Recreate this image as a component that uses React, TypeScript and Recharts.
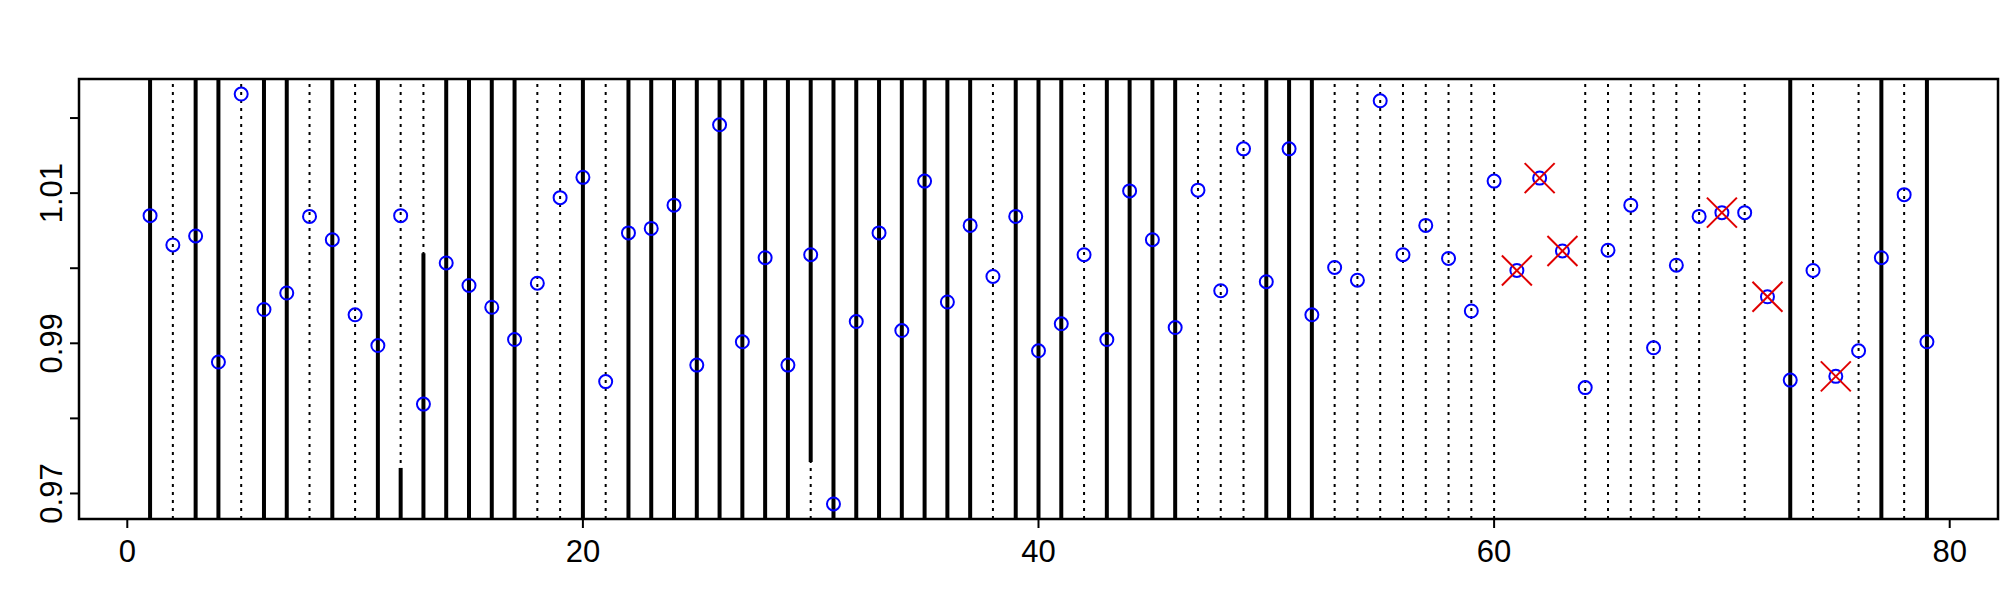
import {
  ComposedChart,
  ReferenceArea,
  ReferenceLine,
  Scatter,
  XAxis,
  YAxis,
} from "recharts";

// values at positions 1..79
const values = [
  1.007, 1.0031, 1.0043, 0.9875, 1.0232, 0.9945, 0.9967, 1.0069, 1.0038, 0.9938,
  0.9897, 1.007, 0.9819, 1.0007, 0.9977, 0.9948, 0.9905, 0.998, 1.0094, 1.0121,
  0.9849, 1.0047, 1.0053, 1.0084, 0.9871, 1.0191, 0.9902, 1.0014, 0.9871, 1.0018,
  0.9686, 0.9929, 1.0047, 0.9917, 1.0116, 0.9955, 1.0057, 0.9989, 1.0069, 0.989,
  0.9926, 1.0018, 0.9905, 1.0103, 1.0038, 0.9921, 1.0104, 0.997, 1.0159, 0.9982,
  1.0159, 0.9938, 1.0001, 0.9984, 1.0223, 1.0018, 1.0057, 1.0013, 0.9943, 1.0116,
  0.9997, 1.012, 1.0023, 0.9841, 1.0024, 1.0084, 0.9894, 1.0004, 1.0069, 1.0074,
  1.0074, 0.9962, 0.9851, 0.9997, 0.9856, 0.989, 1.0014, 1.0098, 0.9902,
];

const flagged = [61, 62, 63, 70, 72, 75];

const solidX = [
  1, 3, 4, 6, 7, 9, 11, 14, 15, 16, 17, 20, 22, 23, 24, 25, 26, 27, 28, 29, 31,
  32, 33, 34, 35, 36, 37, 39, 40, 41, 43, 44, 45, 46, 50, 51, 52, 73, 77, 79,
];

const dottedX = [
  2, 5, 8, 10, 12, 13, 18, 19, 21, 30, 38, 42, 47, 48, 49, 53, 54, 55, 56, 57,
  58, 59, 60, 64, 65, 66, 67, 68, 69, 71, 74, 76, 78,
];

// partial solid lines: [x, from, to]
const partialLines: [number, number, number][] = [
  [12, 0.9666, 0.9734],
  [13, 0.9666, 1.002],
  [30, 1.0252, 0.9742],
];

const xTicks = [0, 20, 40, 60, 80];
const yTicks = [0.97, 0.98, 0.99, 1.0, 1.01, 1.02];
const yLabels = [0.97, 0.99, 1.01];

const xDomain: [number, number] = [-2.12, 82.12];
const yDomain: [number, number] = [0.9666, 1.0252];

const points = values.map((v, i) => ({ x: i + 1, y: v }));
const flaggedPoints = points.filter((p) => flagged.includes(p.x));

const FONT = "'Liberation Sans', Arial, sans-serif";

function XTick(props: any) {
  const { x, y, payload } = props;
  return (
    <text
      x={x}
      y={y}
      dy="0.72em"
      textAnchor="middle"
      fontSize={31}
      fontFamily={FONT}
      fill="#000"
    >
      {payload.value}
    </text>
  );
}

function YTick(props: any) {
  const { x, y, payload } = props;
  const v = Number(payload.value);
  if (!yLabels.some((l) => Math.abs(l - v) < 1e-6)) return <g />;
  return (
    <text
      x={x}
      y={y}
      transform={`rotate(-90, ${x}, ${y})`}
      textAnchor="middle"
      fontSize={31}
      fontFamily={FONT}
      fill="#000"
    >
      {v.toFixed(2)}
    </text>
  );
}

function Ring(props: any) {
  const { cx, cy } = props;
  return <circle cx={cx} cy={cy} r={6.5} fill="none" stroke="#0000ff" strokeWidth={2} />;
}

function Cross(props: any) {
  const { cx, cy } = props;
  const s = 15;
  return (
    <g stroke="#e00000" strokeWidth={2}>
      <line x1={cx - s} y1={cy - s} x2={cx + s} y2={cy + s} />
      <line x1={cx - s} y1={cy + s} x2={cx + s} y2={cy - s} />
    </g>
  );
}

export default function App() {
  return (
    <div style={{ position: "absolute", left: 0, top: 0, background: "#fff" }}>
      <ComposedChart
        width={2000}
        height={600}
        margin={{ top: 79, right: 2, bottom: 0, left: 0 }}
      >
        <XAxis
          type="number"
          dataKey="x"
          domain={xDomain}
          ticks={xTicks}
          allowDataOverflow
          axisLine={false}
          tickSize={9}
          tickMargin={12}
          tickLine={{ stroke: "#000", strokeWidth: 2 }}
          tick={<XTick />}
          height={81}
        />
        <YAxis
          type="number"
          dataKey="y"
          domain={yDomain}
          ticks={yTicks}
          allowDataOverflow
          axisLine={false}
          tickSize={9}
          tickMargin={8}
          tickLine={{ stroke: "#000", strokeWidth: 2 }}
          tick={<YTick />}
          width={79}
          interval={0}
        />
        {dottedX.map((x) => (
          <ReferenceLine
            key={`d${x}`}
            x={x}
            stroke="#000"
            strokeWidth={2}
            strokeDasharray="3 5"
          />
        ))}
        {solidX.map((x) => (
          <ReferenceLine key={`s${x}`} x={x} stroke="#000" strokeWidth={4} />
        ))}
        {partialLines.map(([x, a, b]) => (
          <ReferenceLine
            key={`p${x}`}
            segment={[
              { x, y: a },
              { x, y: b },
            ]}
            stroke="#000"
            strokeWidth={4}
          />
        ))}
        <ReferenceArea
          x1={xDomain[0]}
          x2={xDomain[1]}
          y1={yDomain[0]}
          y2={yDomain[1]}
          fill="none"
          fillOpacity={0}
          stroke="#000"
          strokeWidth={2.5}
        />
        <Scatter data={points} dataKey="y" shape={<Ring />} isAnimationActive={false} />
        <Scatter data={flaggedPoints} dataKey="y" shape={<Cross />} isAnimationActive={false} />
      </ComposedChart>
    </div>
  );
}
